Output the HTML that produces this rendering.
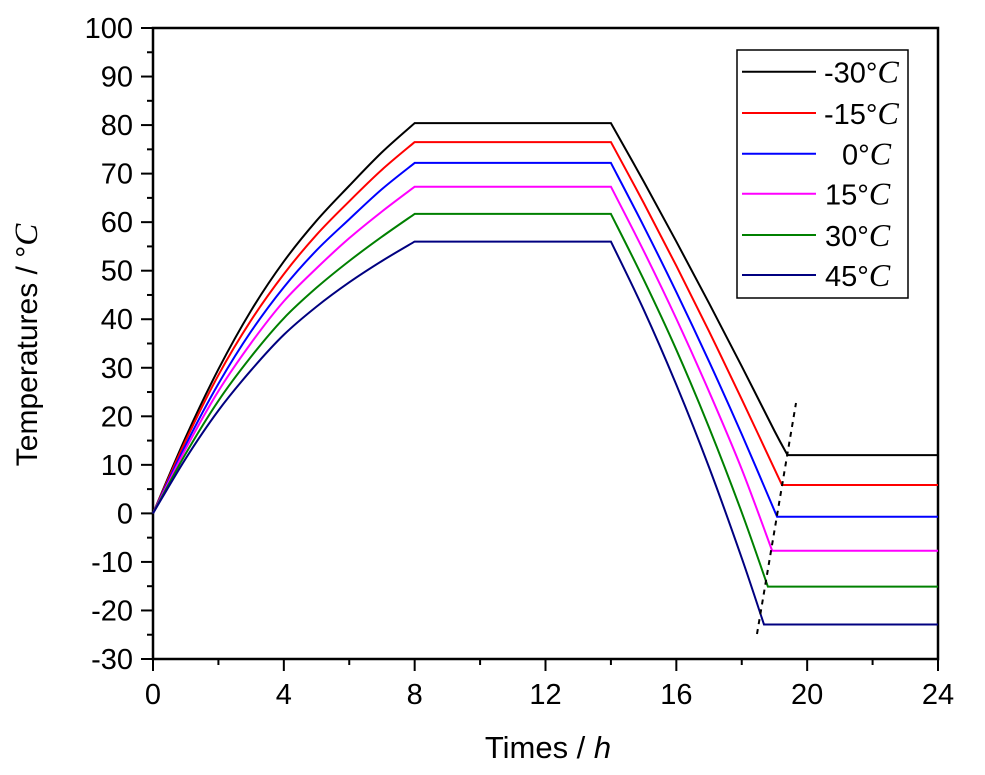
<!DOCTYPE html>
<html><head><meta charset="utf-8"><style>
body{margin:0;background:#fff}
svg{display:block;font-family:"Liberation Sans",Arial,sans-serif}
</style></head><body>
<svg id="chart" width="985" height="775" viewBox="0 0 985 775" xmlns="http://www.w3.org/2000/svg">
<g id="axes"></g>
<g id="series"></g>
<line x1="757" y1="634" x2="796" y2="403" stroke="#000" stroke-width="2" stroke-dasharray="5,5"/>
<g id="legend"></g>
<text x="548" y="758" font-size="31" text-anchor="middle">Times / <tspan font-style="italic">h</tspan></text>
<text transform="translate(37,345) rotate(-90)" font-size="30" text-anchor="middle">Temperatures / °<tspan font-family="Liberation Serif,serif" font-style="italic" font-size="33">C</tspan></text>
</svg>
<script>
const labels=["-30","-15","0","15","30","45"];
const colors=["#000000","#ff0000","#0000ff","#ff00ff","#008000","#000080"];
const heatT=[0,1,2,3,4,5,6,7,8];
const heatV=[
 [0,15.7,29.7,41.8,51.9,60.3,67.5,74.4,80.4],
 [0,15,28.5,39.8,49.3,57.4,64.3,70.8,76.5],
 [0,14.1,26.7,37.5,46.6,54.2,60.6,66.8,72.2],
 [0,13.3,25.2,35.1,43.7,50.5,56.7,62.2,67.3],
 [0,12.3,23.2,32.3,40.2,46.5,52,57,61.7],
 [0,11.3,21.2,29.5,36.8,42.6,47.6,52,56]];
const coolT=[
 [14,15,16,17,18,19,19.4],
 [14,15,16,17,18,19.23],
 [14,15,16,17,18,19.08],
 [14,15,16,17,18,18.93],
 [14,15,16,17,18,18.8],
 [14,15,16,17,18,18.68]];
const coolV=[
 [80.4,68.4,56,43.3,30.3,17,12.0],
 [76.5,64,51,37.5,23.5,5.85],
 [72.2,59.2,45.6,31.3,16.3,-0.7],
 [67.3,54.1,40.1,25.1,9.1,-7.7],
 [61.7,48.2,33.7,17.7,0.2,-15.1],
 [56,42,26.5,9.5,-9.2,-22.9]];
const xTicks=[0,4,8,12,16,20,24];
const yTicks=[100,90,80,70,60,50,40,30,20,10,0,-10,-20,-30];
const X0=153,X1=938,Y0=659,Y1=28,xmin=0,xmax=24,ymin=-30,ymax=100;
const xs=t=>X0+(t-xmin)/(xmax-xmin)*(X1-X0);
const ys=v=>Y0-(v-ymin)/(ymax-ymin)*(Y0-Y1);
const NS="http://www.w3.org/2000/svg";
function mk(tag,attrs,parent){const e=document.createElementNS(NS,tag);for(const k in attrs)e.setAttribute(k,attrs[k]);parent.appendChild(e);return e;}
const axes=document.getElementById('axes');
const frame=mk('rect',{x:X0,y:Y1,width:X1-X0,height:Y0-Y1,fill:'none',stroke:'#000','stroke-width':2.5},axes);


xTicks.forEach((t,i)=>{
 const l=mk('line',{x1:xs(t),x2:xs(t),y1:Y0,y2:Y0+12,stroke:'#000','stroke-width':2},axes);
 
 
 if(i<xTicks.length-1){const m=(t+xTicks[i+1])/2;
  const ml=mk('line',{x1:xs(m),x2:xs(m),y1:Y0,y2:Y0+6,stroke:'#000','stroke-width':2},axes);
  
  }
 const tx=mk('text',{x:xs(t),y:Y0+45,'font-size':29,'text-anchor':'middle'},axes);tx.textContent=t;
 
 
});
yTicks.forEach((v,i)=>{
 const l=mk('line',{x1:X0-12,x2:X0,y1:ys(v),y2:ys(v),stroke:'#000','stroke-width':2},axes);
 
 
 if(i<yTicks.length-1){const m=(v+yTicks[i+1])/2;
  const ml=mk('line',{x1:X0-6,x2:X0,y1:ys(m),y2:ys(m),stroke:'#000','stroke-width':2},axes);
  
  }
 const tx=mk('text',{x:X0-20,y:ys(v)+10,'font-size':29,'text-anchor':'end'},axes);tx.textContent=v;
 
 
});
function catmull(pts){
 let d='';
 for(let i=0;i<pts.length-1;i++){
  const p0=pts[Math.max(0,i-1)],p1=pts[i],p2=pts[i+1],p3=pts[Math.min(pts.length-1,i+2)];
  const c1=[p1[0]+(p2[0]-p0[0])/6,p1[1]+(p2[1]-p0[1])/6];
  const c2=[p2[0]-(p3[0]-p1[0])/6,p2[1]-(p3[1]-p1[1])/6];
  d+=' C'+c1[0]+','+c1[1]+' '+c2[0]+','+c2[1]+' '+p2[0]+','+p2[1];
 }
 return d;
}
const sg=document.getElementById('series');
labels.forEach((lab,s)=>{
 const hp=heatT.map((t,i)=>[xs(t),ys(heatV[s][i])]);
 const cp=coolT[s].map((t,i)=>[xs(t),ys(coolV[s][i])]);
 const last=coolV[s][coolV[s].length-1];
 let d='M'+hp[0][0]+','+hp[0][1]+catmull(hp);
 d+=' L'+cp[0][0]+','+cp[0][1]+catmull(cp);
 d+=' L'+xs(xmax)+','+ys(last);
 const p=mk('path',{d:d,fill:'none',stroke:colors[s],'stroke-width':2},sg);
 
 
});
const lg=document.getElementById('legend');
const box=mk('rect',{x:737,y:50,width:171,height:248,fill:'#fff',stroke:'#000','stroke-width':1.5},lg);


const legY=[71.7,113,153.7,193.7,235,275];
labels.forEach((lab,s)=>{
 const y=legY[s];
 const l=mk('line',{x1:742,x2:816,y1:y,y2:y,stroke:colors[s],'stroke-width':2},lg);
 
 
 const tx=mk('text',{x:lab.length>2?824:(lab.length>1?825:842),y:y+11,'font-size':29},lg);
 
 
 tx.appendChild(document.createTextNode(lab+'°'));
 const c=mk('tspan',{'font-family':'Liberation Serif,serif','font-style':'italic','font-size':32},tx);
 c.textContent='C';
});
</script>
</body></html>
